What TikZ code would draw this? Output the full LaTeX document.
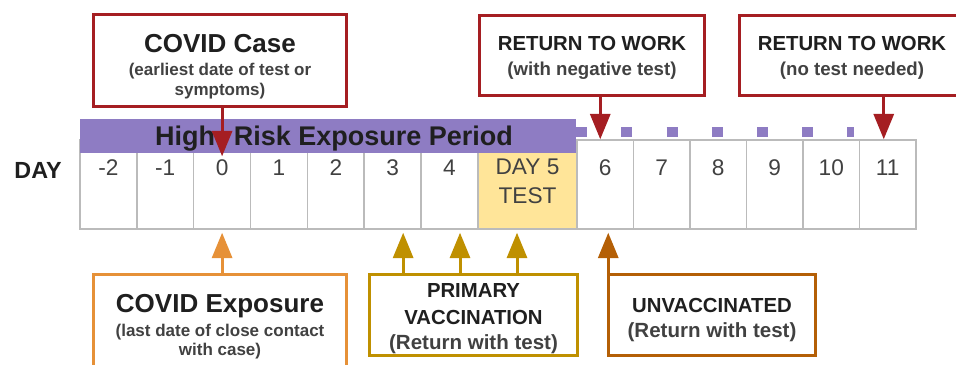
\documentclass[tikz,border=0pt]{standalone}
\usepackage{fontspec}
\setmainfont{Liberation Sans}
\usetikzlibrary{arrows.meta,calc}

\definecolor{caseRed}{HTML}{A51E22}
\definecolor{expoOrange}{HTML}{E69138}
\definecolor{vaxGold}{HTML}{BF9000}
\definecolor{unvacBrown}{HTML}{B45F06}
\definecolor{bandPurple}{HTML}{8E7CC3}
\definecolor{testYellow}{HTML}{FFE599}
\definecolor{cellGray}{HTML}{BBBBBB}
\definecolor{inkDark}{HTML}{1F1F1F}

\newcommand\headfont{\fontsize{19.5}{22}\selectfont\bfseries}
\newcommand\tagfont{\fontsize{15.25}{19.5}\selectfont\bfseries}
\newcommand\notefont{\fontsize{12.75}{15}\selectfont\bfseries\color{inkDark!85}}
\newcommand\midfont{\fontsize{14}{17}\selectfont\bfseries\color{inkDark!85}}
\newcommand\plainfont{\fontsize{15.4}{19.5}\selectfont\bfseries\color{inkDark!85}}
\newcommand\padtop[1]{\rule{0pt}{#1}}

\begin{document}
\begin{tikzpicture}[x=0.75pt, y=-0.75pt,
                    cell/.style = {draw=cellGray, line width=1.1pt, minimum height=66.75pt, inner sep=0pt},
                    num/.style = {font=\fontsize{17}{20}\selectfont, text=inkDark!85},
                    box/.style = {draw, line width=2.25pt, fill=white, align=center, inner sep=1pt, text=inkDark},
                    lsep/.style = {font=\fontsize{10}{#1}\selectfont},
                    arr/.style = {line width=2.25pt, -{Triangle[length=19pt, width=15pt]}}]
                    \useasboundingbox (0,0) rectangle (956,364);
                    \clip (0,0) rectangle (956,364);

                    % day cells
                    \foreach \d in {-2,...,4} {
                        \node[cell, minimum width=42.64pt] (c\d) at ({108.4+(\d+2)*56.85},184.5) {};
                        \node[num] (n\d) at ($(c\d.north)+(0,28)$) {\d};
                    }
                    \node[cell, fill=testYellow, minimum width=74.25pt] (day5) at (527.5,184.5) {};
                    \node[num, align=center, font=\fontsize{17}{21.75}\selectfont] (t5) at ($(day5.north)+(0,42.5)$) {DAY 5\\TEST};
                    \foreach \d in {6,...,11} {
                        \node[cell, minimum width=42.38pt] (c\d) at ({605.25+(\d-6)*56.5},184.5) {};
                        \node[num] (n\d) at ($(c\d.north)+(0,28)$) {\d};
                    }
                    \node[font=\fontsize{17.5}{20}\selectfont\bfseries, text=inkDark] (daylbl) at (38,170) {DAY};

                    % exposure period band
                    \node[fill=bandPurple, minimum width=372pt, minimum height=25.5pt, inner sep=0pt,
                          text depth=0pt, font=\fontsize{20.25}{22}\selectfont\bfseries, text=inkDark] (hrp) at (328,136)
                          {\hspace*{9pt}High\hspace{0.7em}Risk Exposure Period};
                    \draw[bandPurple, line width=7.5pt, dash pattern=on 8.25pt off 25.65pt]
                        ($(c6.north west)+(0,-7)$) -- ($(c11.north west)+(-5,-7)$);

                    % boxes above
                    \node[box, lsep=15pt, draw=caseRed, minimum width=190pt, minimum height=69pt] (case) at (220,60.5)
                        {\headfont\padtop{22.8pt}COVID Case\\[2.6pt]\notefont (earliest date of test or\\\notefont symptoms)};
                    \node[box, lsep=18.75pt, draw=caseRed, minimum width=168.75pt, minimum height=60pt] (ret1) at (592,55.5)
                        {\tagfont\padtop{13.5pt}RETURN TO WORK\\\midfont (with negative test)};
                    \node[box, lsep=18.75pt, draw=caseRed, minimum width=168.75pt, minimum height=60pt] (ret2) at (852,55.5)
                        {\tagfont\padtop{13.5pt}RETURN TO WORK\\\midfont (no test needed)};

                    % boxes below
                    \node[box, lsep=14.25pt, draw=expoOrange, minimum width=190pt, minimum height=73.5pt] (expo) at (220,323.5)
                        {\headfont\padtop{18.7pt}COVID Exposure\\[3.75pt]\notefont (last date of close contact\\\notefont with case)};
                    \node[box, lsep=18.75pt, draw=vaxGold, minimum width=156pt, minimum height=60.75pt] (prim) at (473.5,315)
                        {\tagfont\padtop{16.4pt}PRIMARY\\[1.5pt]\tagfont VACCINATION\\\plainfont (Return with test)};
                    \node[box, lsep=18.75pt, draw=unvacBrown, minimum width=155.25pt, minimum height=60.75pt] (unvac) at (712,315)
                        {\tagfont\padtop{17.7pt}UNVACCINATED\\\plainfont (Return with test)};

                    % arrows
                    \draw[arr, caseRed] (case.south -| c0.north) -- ($(c0.north)+(0,17)$);
                    \draw[arr, caseRed] ($(c6.north |- ret1.south)+(-5,0)$) -- ($(c6.north)+(-5,0)$);
                    \draw[arr, caseRed] ($(c11.north |- ret2.south)+(-4,0)$) -- ($(c11.north)+(-4,0)$);
                    \draw[arr, expoOrange] (c0.south |- expo.north) -- ($(c0.south)+(0,3)$);
                    \foreach \c/\dx in {c3/10.5, c4/10.5, day5/-10.5}
                        \draw[arr, vaxGold] ($(\c.south |- prim.north)+(\dx,0)$) -- ($(\c.south)+(\dx,3)$);
                    \draw[arr, unvacBrown] ($(c6.south |- unvac.north)+(3,0)$) -- ($(c6.south)+(3,3)$);
\end{tikzpicture}
\end{document}
